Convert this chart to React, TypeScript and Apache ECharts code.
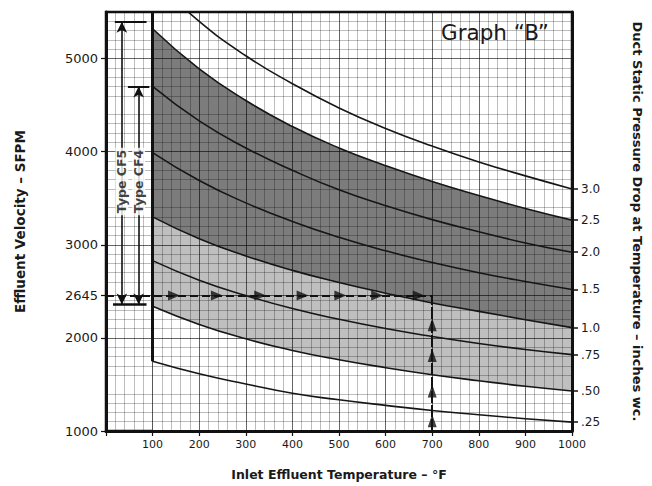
import React, { useEffect, useRef } from 'react';
import * as echarts from 'echarts';

// ---- data ----
const temperatures = [100, 200, 300, 400, 500, 600, 700, 800, 900, 1000];
const pressureLabels = ['3.0', '2.5', '2.0', '1.5', '1.0', '.75', '.50', '.25'];
const velocity30 = [5860, 5400, 5030, 4730, 4470, 4250, 4060, 3890, 3740, 3600];
const velocity25 = [5320, 4890, 4550, 4270, 4040, 3850, 3680, 3530, 3390, 3265];
const velocity20 = [4700, 4330, 4040, 3800, 3590, 3420, 3270, 3140, 3020, 2920];
const velocity15 = [3990, 3690, 3450, 3250, 3080, 2935, 2810, 2700, 2605, 2520];
const velocity10 = [3300, 3065, 2880, 2725, 2595, 2480, 2375, 2285, 2195, 2110];
const velocity075 = [2830, 2620, 2455, 2315, 2200, 2100, 2015, 1940, 1875, 1820];
const velocity050 = [2340, 2145, 1990, 1865, 1765, 1680, 1605, 1540, 1480, 1430];
const velocity025 = [1750, 1615, 1505, 1405, 1335, 1275, 1220, 1175, 1132, 1095];
const curves = [velocity30, velocity25, velocity20, velocity15, velocity10, velocity075, velocity050, velocity025];

const velocityTicks = [1000, 2000, 3000, 4000, 5000];
const designLabel = '2645';
const designVelocity = 2455; // height at which the reference draws its 2645 line
const designTemperature = 700;
const designArrowTemps = [146, 238, 331, 422, 503, 582, 671];
const riseArrowVelocities = [1110, 1430, 1810, 2140];

const typeNames = ['Type CF5', 'Type CF4'];
const typeTemps = [34, 70];
const typeTopVelocities = [5396, 4700];
const typeTopBarFrom = [19, 47];
const typeTopBarTo = [87, 93];
const typeBaseVelocity = 2358;
const typeBaseBarFrom = 15;
const typeBaseBarTo = 87;
const typeLabelVelocity = 3680;

const SMOOTH = 0.5;
const FONT = 'DejaVu Sans';
const pair = (xs: number[], ys: number[]) => xs.map((x, i) => [x, ys[i]]);
const curveEnds = curves.map((c) => c[c.length - 1]);

export default function App() {
  const ref = useRef<HTMLDivElement>(null);
  useEffect(() => {
    if (!ref.current) return;
    const chart = echarts.init(ref.current, null, { renderer: 'svg' });

    const fill = (vals: number[], color: string) => ({
      type: 'line',
      data: pair(temperatures, vals),
      smooth: SMOOTH,
      symbol: 'none',
      silent: true,
      z: 1,
      lineStyle: { width: 0, opacity: 0 },
      areaStyle: { color, opacity: 1, origin: 'start' },
    });

    const curveSeries = curves.map((vals, i) => ({
      type: 'line',
      name: pressureLabels[i],
      data: pair(temperatures, vals),
      smooth: SMOOTH,
      symbol: 'none',
      silent: true,
      z: 4,
      lineStyle: { color: '#161616', width: 1.6 },
    }));

    const seg = (a: number[], b: number[], style: any, symA = 'none', symB = 'none') => [
      { coord: a, symbol: symA, lineStyle: style },
      { coord: b, symbol: symB },
    ];

    const solid = { color: '#111', width: 1.6, type: 'solid' };
    const dashed = { color: '#111', width: 1.8, type: [8, 4] };

    const markLines: any[] = [
      seg([100, velocity025[0]], [100, 5500], { color: '#111', width: 3, type: 'solid' }),
      ...typeTemps.map((t, i) => seg([t, typeBaseVelocity], [t, typeTopVelocities[i]], solid, 'arrow', 'arrow')),
      ...typeTemps.map((t, i) => seg([typeTopBarFrom[i], typeTopVelocities[i]], [typeTopBarTo[i], typeTopVelocities[i]], { color: '#111', width: 2, type: 'solid' })),
      seg([typeBaseBarFrom, typeBaseVelocity], [typeBaseBarTo, typeBaseVelocity], { color: '#111', width: 2.5, type: 'solid' }),
      seg([0, designVelocity], [designTemperature, designVelocity], dashed),
      seg([designTemperature, 1000], [designTemperature, designVelocity], { color: '#111', width: 2, type: [12, 2] }),
    ];

    const option: any = {
      animation: false,
      backgroundColor: '#fff',
      title: {
        text: 'Graph “B”',
        left: 441,
        top: 21,
        padding: 0,
        textStyle: { fontFamily: FONT, fontSize: 21.5, fontWeight: 'normal', color: '#1a1a1a' },
      },
      grid: { left: 106, right: 75, top: 12, bottom: 53, show: true, borderColor: '#111', borderWidth: 2.5, backgroundColor: 'transparent' },
      xAxis: {
        type: 'value',
        min: 0,
        max: 1000,
        interval: 100,
        z: 3,
        name: 'Inlet Effluent Temperature – °F',
        nameLocation: 'middle',
        nameGap: 37,
        nameTextStyle: { fontFamily: FONT, fontSize: 12.5, fontWeight: 'bold', color: '#1a1a1a' },
        axisLine: { show: true, lineStyle: { color: '#111', width: 3 } },
        axisTick: { show: true, length: 5, lineStyle: { color: '#111', width: 1.2 } },
        axisLabel: { margin: 8, fontFamily: FONT, fontSize: 11, color: '#1a1a1a', formatter: (v: number) => (v === 0 ? '' : String(v)) },
        splitLine: { show: true, lineStyle: { color: 'rgba(0,0,0,0.6)', width: 1 } },
        minorTick: { show: false, splitNumber: 5 },
        minorSplitLine: { show: true, lineStyle: { color: 'rgba(0,0,0,0.33)', width: 0.8 } },
      },
      yAxis: [
        {
          type: 'value',
          min: 1000,
          max: 5500,
          interval: 500,
          z: 3,
          name: 'Effluent Velocity – SFPM',
          nameLocation: 'middle',
          nameGap: 79,
          nameTextStyle: { fontFamily: FONT, fontSize: 13.5, fontWeight: 'bold', color: '#1a1a1a' },
          axisLine: { show: true, lineStyle: { color: '#111', width: 3 } },
          axisTick: { show: true, customValues: [...velocityTicks, designVelocity], length: 5, lineStyle: { color: '#111', width: 1.2 } },
          axisLabel: {
            customValues: [...velocityTicks, designVelocity],
            margin: 8,
            fontFamily: FONT,
            fontSize: 13,
            color: '#1a1a1a',
            formatter: (v: number) => (v === designVelocity ? designLabel : String(v)),
          },
          splitLine: { show: true, lineStyle: { color: 'rgba(0,0,0,0.6)', width: 1 } },
          minorTick: { show: false, splitNumber: 5 },
          minorSplitLine: { show: true, lineStyle: { color: 'rgba(0,0,0,0.33)', width: 0.8 } },
        },
        {
          type: 'value',
          position: 'right',
          min: 1000,
          max: 5500,
          z: 3,
          name: 'Duct Static Pressure Drop at Temperature – inches wc.',
          nameLocation: 'middle',
          nameRotate: -90,
          nameGap: 59,
          nameTextStyle: { fontFamily: FONT, fontSize: 13, fontWeight: 'bold', color: '#1a1a1a' },
          splitLine: { show: false },
          axisLine: { show: true, lineStyle: { color: '#111', width: 3 } },
          axisTick: { show: true, customValues: curveEnds, length: 6, lineStyle: { color: '#111', width: 1.5 } },
          axisLabel: {
            customValues: curveEnds,
            margin: 9,
            fontFamily: FONT,
            fontSize: 12,
            color: '#1a1a1a',
            formatter: (v: number) => {
              const i = curveEnds.indexOf(v);
              return i >= 0 ? pressureLabels[i] : '';
            },
          },
        },
      ],
      series: [
        fill(velocity25, '#7c7c7c'),
        fill(velocity10, '#bfbfbf'),
        fill(velocity050, '#ffffff'),
        ...curveSeries,
        {
          type: 'line',
          data: [],
          z: 5,
          silent: true,
          markLine: {
            silent: true,
            symbol: ['none', 'none'],
            symbolSize: [8, 11],
            label: { show: false },
            data: markLines,
          },
        },
        {
          type: 'scatter',
          z: 6,
          silent: true,
          symbol: 'triangle',
          symbolRotate: -90,
          symbolSize: [10, 12],
          itemStyle: { color: '#111' },
          data: designArrowTemps.map((t) => [t, designVelocity]),
        },
        {
          type: 'scatter',
          z: 6,
          silent: true,
          symbol: 'triangle',
          symbolSize: [9, 13],
          itemStyle: { color: '#111' },
          data: riseArrowVelocities.map((v) => [designTemperature, v]),
        },
        {
          type: 'scatter',
          z: 6,
          silent: true,
          symbolSize: 0,
          data: typeNames.map((n, i) => ({ name: n, value: [typeTemps[i], typeLabelVelocity] })),
          label: {
            show: true,
            position: 'inside',
            rotate: 90,
            formatter: (p: any) => p.name,
            fontFamily: FONT,
            fontSize: 12.5,
            fontWeight: 'bold',
            color: '#111',
            backgroundColor: '#fff',
            padding: [0, 2],
          },
        },
      ],
    };
    chart.setOption(option);
    return () => chart.dispose();
  }, []);
  return <div ref={ref} style={{ position: 'fixed', left: 0, top: 0, width: 652, height: 486 }} />;
}
